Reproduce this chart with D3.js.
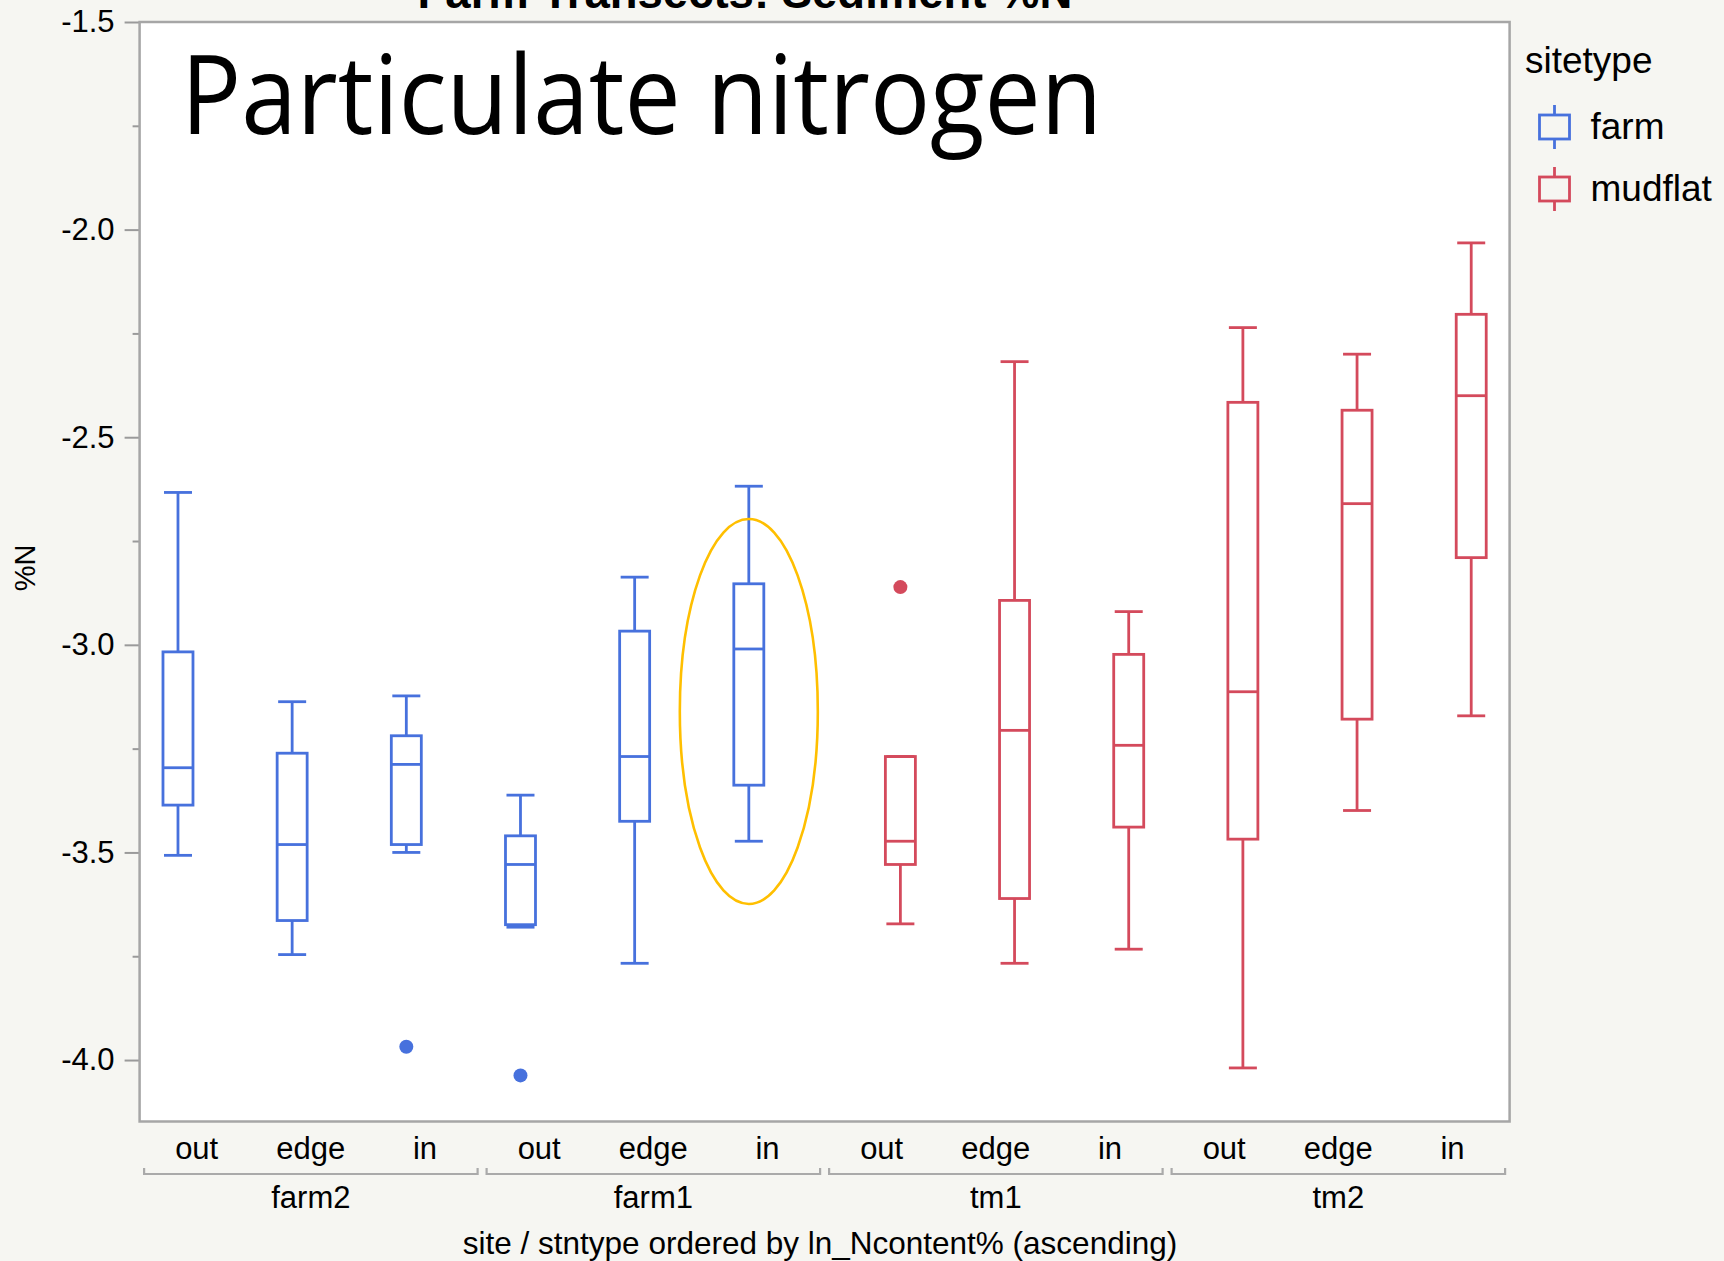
<!DOCTYPE html>
<html>
<head>
<meta charset="utf-8">
<script src="https://cdn.jsdelivr.net/npm/d3@7"></script>
<style>
	body { margin: 0; background: #f6f6f2; }
	text { font-family: "Liberation Sans", Arial, sans-serif; fill: #000; }
</style>
</head>
<body>
<svg id="chart"></svg>
<script>
// Graph Dimensions
const width = 1724;
const height = 1261;

// plot frame
const plot = {
	left: 139.6,
	right: 1509.6,
	top: 22,
	bottom: 1121.5,
};

// categories
const sites = ["farm2", "farm1", "tm1", "tm2"];
const stnTypes = ["out", "edge", "in"];
const siteTypes = ["farm", "mudflat"];
const siteTypeOfSite = ["farm", "farm", "mudflat", "mudflat"];

// box stats, order: farm2 out/edge/in, farm1 ..., tm1 ..., tm2 ...
const whiskerHigh = [-2.633, -3.137, -3.123, -3.362, -2.837, -2.618, -3.269, -2.318, -2.920, -2.236, -2.300, -2.032];
const q3 = [-3.017, -3.261, -3.219, -3.460, -2.967, -2.853, -3.269, -2.893, -3.023, -2.416, -2.435, -2.204];
const median = [-3.296, -3.481, -3.288, -3.529, -3.269, -3.010, -3.473, -3.206, -3.242, -3.113, -2.660, -2.400];
const q1 = [-3.386, -3.664, -3.481, -3.674, -3.425, -3.338, -3.529, -3.611, -3.439, -3.468, -3.179, -2.790];
const whiskerLow = [-3.507, -3.746, -3.500, -3.680, -3.767, -3.473, -3.672, -3.767, -3.733, -4.019, -3.399, -3.171];

// outlier points
const outlierCats = ["farm2|in", "farm1|out", "tm1|out"];
const outlierValues = [-3.968, -4.037, -2.861];

// y ticks
const yTicks = [-1.5, -2.0, -2.5, -3.0, -3.5, -4.0];
const yMinorTicks = [-1.75, -2.25, -2.75, -3.25, -3.75];

// highlighted box (ellipse annotation), value range
const highlightCat = "farm1|in";
const highlightRange = [-2.697, -3.624];

const colors = { farm: "#4771dd", mudflat: "#d44a5c" };

// build the table
const data = [];
sites.forEach((site, si) => {
	stnTypes.forEach((stn, ti) => {
		const i = si * stnTypes.length + ti;
		data.push({
			key: site + "|" + stn,
			site: site,
			stn: stn,
			type: siteTypeOfSite[si],
			hi: whiskerHigh[i],
			q3: q3[i],
			med: median[i],
			q1: q1[i],
			lo: whiskerLow[i],
		});
	});
});

const svg = d3.select("#chart").attr("width", width).attr("height", height);

// scales
const xScale = d3
	.scaleBand()
	.domain(data.map((d) => d.key))
	.range([plot.left, plot.right]);
const bw = xScale.bandwidth();

const typeScale = d3.scalePoint().domain(siteTypes).range([-18.7, 18.7]);

const yScale = d3
	.scaleLinear()
	.domain([-4.148, -1.5])
	.range([plot.bottom, plot.top]);

const cx = (key, type) => xScale(key) + bw / 2 + typeScale(type);

// Title (cut off at the top, as in the original)
svg
	.append("text")
	.attr("x", 745)
	.attr("y", 8)
	.attr("text-anchor", "middle")
	.style("font-size", "45.5px")
	.style("font-weight", "bold")
	.text("Farm Transects: Sediment %N");

// plot background
svg
	.append("rect")
	.attr("x", plot.left)
	.attr("y", plot.top)
	.attr("width", plot.right - plot.left)
	.attr("height", plot.bottom - plot.top)
	.attr("fill", "#fff");

// Y AXIS
const yAxis = svg
	.append("g")
	.attr("transform", `translate(${plot.left}, 0)`)
	.call(
		d3.axisLeft(yScale)
			.tickValues(yTicks)
			.tickSize(15)
			.tickPadding(10)
			.tickFormat((d) => d.toFixed(1))
	);
yAxis.select(".domain").remove();
yAxis.selectAll("line").attr("stroke", "#9a9a9a").attr("stroke-width", 2);
yAxis.selectAll("text").style("font-size", "31px").attr("font-family", null);

const yMinor = svg
	.append("g")
	.attr("transform", `translate(${plot.left}, 0)`)
	.call(d3.axisLeft(yScale).tickValues(yMinorTicks).tickSize(7).tickFormat(""));
yMinor.select(".domain").remove();
yMinor.selectAll("line").attr("stroke", "#9a9a9a").attr("stroke-width", 2);

svg
	.append("text")
	.attr("transform", `translate(35, 568) rotate(-90)`)
	.attr("text-anchor", "middle")
	.style("font-size", "29px")
	.text("%N");

// big overlay label
svg
	.append("text")
	.attr("x", 181)
	.attr("y", 134)
	.attr("textLength", 921)
	.attr("lengthAdjust", "spacingAndGlyphs")
	.style("font-family", "'Open Sans', 'Noto Sans', sans-serif")
	.style("font-size", "110px")
	.text("Particulate nitrogen");

// boxes
const boxW = 30;
const capW = 28;
const boxes = svg
	.append("g")
	.selectAll("g")
	.data(data)
	.join("g")
	.attr("stroke", (d) => colors[d.type])
	.attr("stroke-width", 2.8)
	.attr("fill", "none");

boxes
	.append("line")
	.attr("x1", (d) => cx(d.key, d.type))
	.attr("x2", (d) => cx(d.key, d.type))
	.attr("y1", (d) => yScale(d.hi))
	.attr("y2", (d) => yScale(d.q3));

boxes
	.append("line")
	.attr("x1", (d) => cx(d.key, d.type))
	.attr("x2", (d) => cx(d.key, d.type))
	.attr("y1", (d) => yScale(d.q1))
	.attr("y2", (d) => yScale(d.lo));

boxes
	.append("line")
	.attr("x1", (d) => cx(d.key, d.type) - capW / 2)
	.attr("x2", (d) => cx(d.key, d.type) + capW / 2)
	.attr("y1", (d) => yScale(d.hi))
	.attr("y2", (d) => yScale(d.hi));

boxes
	.append("line")
	.attr("x1", (d) => cx(d.key, d.type) - capW / 2)
	.attr("x2", (d) => cx(d.key, d.type) + capW / 2)
	.attr("y1", (d) => yScale(d.lo))
	.attr("y2", (d) => yScale(d.lo));

boxes
	.append("rect")
	.attr("x", (d) => cx(d.key, d.type) - boxW / 2)
	.attr("y", (d) => yScale(d.q3))
	.attr("width", boxW)
	.attr("height", (d) => yScale(d.q1) - yScale(d.q3));

boxes
	.append("line")
	.attr("x1", (d) => cx(d.key, d.type) - boxW / 2)
	.attr("x2", (d) => cx(d.key, d.type) + boxW / 2)
	.attr("y1", (d) => yScale(d.med))
	.attr("y2", (d) => yScale(d.med));

// outliers
svg
	.append("g")
	.selectAll("circle")
	.data(outlierCats.map((c, i) => ({ key: c, value: outlierValues[i], type: data.find((d) => d.key === c).type })))
	.join("circle")
	.attr("cx", (d) => cx(d.key, d.type))
	.attr("cy", (d) => yScale(d.value))
	.attr("r", 7)
	.attr("fill", (d) => colors[d.type]);

// ellipse annotation
const hl = data.find((d) => d.key === highlightCat);
svg
	.append("ellipse")
	.attr("cx", cx(hl.key, hl.type))
	.attr("cy", (yScale(highlightRange[0]) + yScale(highlightRange[1])) / 2)
	.attr("rx", 69)
	.attr("ry", (yScale(highlightRange[1]) - yScale(highlightRange[0])) / 2)
	.attr("fill", "none")
	.attr("stroke", "#ffbf00")
	.attr("stroke-width", 2.6);

// plot frame
svg
	.append("rect")
	.attr("x", plot.left)
	.attr("y", plot.top)
	.attr("width", plot.right - plot.left)
	.attr("height", plot.bottom - plot.top)
	.attr("fill", "none")
	.attr("stroke", "#a6a6a6")
	.attr("stroke-width", 2.5);

// X AXIS labels
svg
	.append("g")
	.selectAll("text")
	.data(data)
	.join("text")
	.attr("x", (d) => xScale(d.key) + bw / 2)
	.attr("y", 1159)
	.attr("text-anchor", "middle")
	.style("font-size", "31px")
	.text((d) => d.stn);

// group brackets
const brackets = svg
	.append("g")
	.selectAll("g")
	.data(sites)
	.join("g");

brackets
	.append("path")
	.attr("d", (s) => {
		const x0 = xScale(s + "|" + stnTypes[0]) + 4.5;
		const x1 = xScale(s + "|" + stnTypes[stnTypes.length - 1]) + bw - 4.5;
		return `M${x0},1168 V1174 H${x1} V1168`;
	})
	.attr("fill", "none")
	.attr("stroke", "#aaaaaa")
	.attr("stroke-width", 2.2);

brackets
	.append("text")
	.attr("x", (s) => xScale(s + "|" + stnTypes[1]) + bw / 2)
	.attr("y", 1208)
	.attr("text-anchor", "middle")
	.style("font-size", "31px")
	.text((s) => s);

svg
	.append("text")
	.attr("x", 820)
	.attr("y", 1254)
	.attr("text-anchor", "middle")
	.style("font-size", "31.5px")
	.text("site / stntype ordered by ln_Ncontent% (ascending)");

// Legend
const legend = svg.append("g");
legend
	.append("text")
	.attr("x", 1525)
	.attr("y", 73)
	.style("font-size", "37px")
	.text("sitetype");

const legendY = [127, 189];
const items = legend
	.selectAll("g")
	.data(siteTypes)
	.join("g")
	.attr("transform", (d, i) => `translate(1554.5, ${legendY[i]})`);

items
	.append("line")
	.attr("y1", -22)
	.attr("y2", 22)
	.attr("stroke", (d) => colors[d])
	.attr("stroke-width", 2.8);

items
	.append("rect")
	.attr("x", -15)
	.attr("y", -12)
	.attr("width", 30)
	.attr("height", 24)
	.attr("fill", "#f6f6f2")
	.attr("stroke", (d) => colors[d])
	.attr("stroke-width", 2.8);

items
	.append("text")
	.attr("x", 36)
	.attr("y", 12)
	.style("font-size", "37px")
	.text((d) => d);
</script>
</body>
</html>
